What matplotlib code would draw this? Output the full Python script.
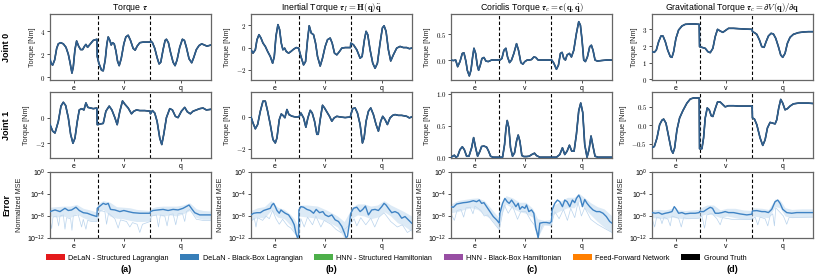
import numpy as np
import matplotlib
matplotlib.use("Agg")
import matplotlib.pyplot as plt
from matplotlib.patches import Patch
from matplotlib.ticker import FixedLocator, FuncFormatter, LogFormatterMathtext, NullLocator

plt.rcParams['font.family'] = ['Liberation Sans', 'DejaVu Sans']
plt.rcParams['mathtext.fontset'] = 'cm'

# trajectory segments (time steps) and labels
seg_edges = [0, 143, 301, 484]
seg_labels = ['e', 'v', 'q']

titles = [r'Torque $\boldsymbol{\tau}$',
          r'Inertial Torque $\boldsymbol{\tau}_I = \mathbf{H}(\mathbf{q})\ddot{\mathbf{q}}$',
          r'Coriolis Torque $\boldsymbol{\tau}_c = \mathbf{c}(\mathbf{q}, \dot{\mathbf{q}})$',
          r'Gravitational Torque $\boldsymbol{\tau}_c = \partial V(\mathbf{q}) / \partial \mathbf{q}$']
panel_tags = ['(a)', '(b)', '(c)', '(d)']

# ---- torque curves (t, Nm) ----
tau_j0 = [(0, 1.55), (4, 1.15), (8, 1.05), (14, 1.5), (20, 2.5), (25, 2.9), (32, 3.0), (40, 2.9), (48, 2.6),
          (55, 2.0), (60, 1.3), (66, 0.35), (70, 0.9), (75, 2.4), (80, 3.15), (86, 2.7), (92, 2.4), (98, 2.4),
          (104, 2.7), (108, 2.85), (113, 2.6), (120, 2.85), (130, 3.2), (141, 3.3),
          (142, 1.8), (147, 1.2), (155, 0.6), (160, 0.55), (166, 1.5), (171, 2.9), (175, 3.5), (180, 3.2),
          (184, 2.8), (188, 3.0), (193, 2.9), (198, 2.3), (203, 1.4), (208, 1.0), (214, 1.6), (222, 2.9),
          (228, 3.5), (235, 3.65), (242, 3.2), (250, 2.5), (256, 2.35), (262, 2.7), (270, 3.0), (280, 3.05),
          (301, 3.05),
          (303, 3.15), (308, 3.0), (315, 2.5), (322, 1.7), (328, 1.15), (333, 1.3), (340, 2.4), (346, 3.2),
          (350, 3.3), (356, 3.0), (362, 2.2), (370, 1.3), (376, 1.0), (382, 1.5), (390, 2.6), (398, 3.3),
          (404, 3.2), (410, 2.6), (418, 1.6), (426, 1.25), (432, 1.7), (440, 2.4), (448, 2.75), (456, 2.9),
          (464, 2.8), (472, 2.7), (478, 2.75), (484, 2.8)]
tau_j1 = [(0, -0.55), (8, -1.05), (15, -1.2), (25, -0.3), (33, 0.9), (40, 1.2), (47, 0.95), (55, 0.0),
          (62, -1.3), (69, -2.0), (75, -1.6), (82, -0.3), (88, 0.6), (95, 0.7), (102, 0.6), (108, 1.15),
          (114, 0.8), (122, 0.75), (130, 0.7), (141, 0.75),
          (142, -0.55), (150, -0.5), (160, -0.45), (168, 0.5), (178, 0.9), (186, 0.6), (195, 0.0), (202, -0.55),
          (210, 0.5), (218, 1.3), (225, 1.05), (235, 0.75), (245, 0.3), (252, 0.5), (260, 0.6), (270, 0.55),
          (285, 0.55), (301, 0.5),
          (302, 0.3), (308, 0.55), (315, 0.35), (322, -0.3), (330, -1.6), (336, -2.1), (342, -1.3), (350, 0.0),
          (360, 0.7), (368, 0.6), (377, 0.1), (385, 0.0), (395, 0.5), (405, 0.8), (413, 0.45), (422, 0.3),
          (430, 0.5), (440, 0.6), (450, 0.7), (460, 0.75), (470, 0.6), (484, 0.65)]

inertial_j0 = [(0, -0.2), (6, -0.5), (13, -0.2), (18, 0.7), (24, 1.15), (30, 0.85), (36, 0.4), (43, 0.1),
               (50, -0.35), (58, -0.8), (65, -1.4), (70, -0.8), (75, 1.0), (81, 2.05), (86, 1.6), (91, 0.4),
               (96, -0.2), (101, -0.05), (106, -0.35), (113, -0.5), (120, -0.35), (128, -0.15), (136, 0.0),
               (143, -0.05),
               (144, -0.15), (150, -0.8), (158, -1.55), (164, -1.25), (170, 0.7), (175, 1.95), (181, 1.3),
               (188, 1.15), (194, 0.4), (200, -0.8), (208, -1.65), (215, -0.95), (223, 0.1), (230, 0.7),
               (238, 0.85), (244, 0.4), (251, -0.5), (258, -0.65), (266, -0.35), (273, -0.05), (283, 0.0),
               (299, 0.0),
               (300, 0.4), (308, 0.25), (318, -0.2), (328, -0.95), (334, -0.8), (341, 0.7), (346, 1.45),
               (351, 1.15), (358, -0.2), (366, -1.4), (373, -1.85), (380, -1.4), (388, 0.4), (395, 1.75),
               (400, 1.95), (406, 1.45), (413, -0.2), (420, -1.2), (428, -0.65), (438, -0.05), (448, 0.1),
               (458, 0.0), (468, 0.0), (476, -0.1), (483, -0.05)]
inertial_j1 = [(0, 0.0), (6, -0.38), (13, -0.75), (20, -0.48), (28, 0.36), (36, 1.0), (43, 1.0), (50, 0.36),
               (58, -0.48), (66, -1.43), (73, -1.65), (78, -1.33), (85, -0.17), (91, 0.19), (96, 0.1),
               (102, -0.05), (108, 0.47), (114, 0.15), (123, 0.05), (133, 0.0), (143, 0.0),
               (144, 0.0), (150, 0.25), (158, -0.06), (165, -0.65), (171, -0.06), (178, 0.42), (184, 0.25),
               (191, -0.27), (198, -1.1), (202, -1.1), (208, -0.17), (215, 0.74), (221, 0.57), (228, 0.32),
               (236, 0.04), (243, -0.27), (250, -0.06), (258, 0.04), (268, 0.0), (283, -0.04), (299, 0.0),
               (300, 0.15), (306, 0.53), (313, 0.57), (320, 0.25), (328, -0.48), (335, -1.65), (340, -1.33),
               (346, -0.27), (353, 0.36), (360, 0.57), (368, 0.15), (376, -0.48), (383, -0.9), (390, -0.27),
               (396, 0.04), (403, -0.17), (410, -0.48), (418, -0.06), (426, 0.1), (433, 0.15), (443, 0.1),
               (453, 0.1), (468, 0.04), (476, -0.06), (483, 0.0)]

coriolis_j0 = [(0, 0.0), (7, -0.01), (14, 0.0), (20, -0.13), (27, -0.03), (34, 0.13), (39, 0.14), (45, -0.03),
               (49, -0.2), (55, -0.31), (60, -0.2), (65, 0.06), (69, 0.23), (74, 0.13), (79, -0.1), (83, -0.2),
               (88, -0.1), (93, 0.03), (99, 0.05), (105, -0.02), (112, -0.03), (122, 0.0), (145, 0.0),
               (147, 0.0), (153, 0.03), (159, 0.19), (165, 0.23), (170, 0.06), (176, -0.05), (182, 0.0),
               (189, 0.13), (197, 0.32), (203, 0.19), (210, -0.05), (216, -0.08), (222, -0.03), (229, 0.0),
               (235, 0.0), (242, 0.01), (249, 0.06), (255, 0.05), (262, 0.0), (287, 0.0), (302, 0.0),
               (303, 0.0), (309, -0.06), (317, -0.18), (323, -0.1), (329, 0.13), (334, 0.15), (339, 0.03),
               (344, 0.0), (349, 0.1), (356, 0.13), (362, 0.06), (369, 0.19), (377, 0.52), (384, 0.75),
               (389, 0.68), (394, 0.39), (399, 0.0), (404, -0.03), (410, 0.06), (417, 0.26), (422, 0.29),
               (427, 0.19), (433, 0.0), (440, -0.02), (452, -0.01), (467, 0.0), (484, 0.0)]
coriolis_j1 = [(0, 0.0), (5, 0.016), (10, 0.032), (15, 0.0), (20, 0.016), (27, 0.12), (34, 0.165), (40, 0.12),
               (47, 0.016), (54, 0.016), (62, 0.149), (68, 0.31), (74, 0.149), (80, 0.016), (87, 0.096),
               (92, 0.17), (99, 0.176), (107, 0.16), (113, 0.096), (119, 0.016), (127, 0.0), (145, 0.0),
               (147, 0.0), (155, 0.0), (161, 0.2), (165, 0.44), (169, 0.58), (174, 0.465), (179, 0.149),
               (185, 0.016), (191, 0.069), (197, 0.255), (202, 0.35), (207, 0.255), (213, 0.027), (219, 0.011),
               (227, 0.011), (235, 0.016), (243, 0.043), (251, 0.064), (257, 0.027), (267, 0.0), (302, 0.0),
               (303, 0.0), (317, 0.0), (327, 0.043), (335, 0.149), (342, 0.043), (349, 0.096), (356, 0.19),
               (363, 0.096), (370, 0.096), (377, 0.362), (384, 0.734), (390, 0.856), (396, 0.707), (402, 0.2),
               (409, 0.0), (415, 0.122), (421, 0.335), (427, 0.17), (433, 0.016), (442, 0.0), (484, 0.0)]

grav_j0 = [(0, 1.66), (7, 1.62), (13, 1.76), (20, 2.26), (27, 2.6), (33, 2.6), (40, 2.26), (47, 1.76),
           (55, 1.36), (60, 1.32), (65, 1.66), (72, 2.46), (80, 2.96), (90, 3.2), (100, 3.3), (115, 3.32),
           (130, 3.32), (142, 3.3),
           (143, 1.96), (150, 1.92), (160, 1.86), (168, 1.66), (175, 1.6), (183, 1.86), (190, 2.56),
           (197, 3.0), (205, 2.9), (213, 2.82), (220, 2.92), (230, 3.06), (245, 3.06), (260, 3.04),
           (275, 3.02), (301, 3.0),
           (302, 2.86), (308, 2.8), (315, 2.7), (323, 2.36), (330, 1.96), (337, 1.92), (343, 2.26), (350, 2.6),
           (358, 2.76), (365, 2.72), (372, 2.46), (380, 1.96), (387, 1.46), (393, 1.32), (400, 1.56),
           (407, 2.16), (415, 2.52), (425, 2.7), (440, 2.8), (455, 2.84), (470, 2.86), (484, 2.86)]
grav_j1 = [(0, -0.6), (7, -0.57), (15, -0.34), (23, 0.02), (30, 0.14), (35, 0.17), (42, 0.06), (50, -0.3),
           (58, -0.66), (63, -0.75), (68, -0.61), (75, -0.12), (83, 0.2), (93, 0.4), (105, 0.6), (115, 0.71),
           (125, 0.74), (142, 0.74),
           (143, -0.63), (150, -0.63), (155, -0.34), (160, 0.2), (166, 0.47), (172, 0.42), (178, 0.26),
           (183, 0.24), (189, 0.42), (197, 0.63), (205, 0.63), (213, 0.56), (220, 0.5), (230, 0.53),
           (245, 0.53), (260, 0.52), (301, 0.52),
           (302, 0.2), (308, 0.17), (315, 0.02), (325, -0.34), (333, -0.54), (340, -0.39), (347, -0.07),
           (355, 0.08), (363, 0.06), (370, 0.04), (375, 0.15), (381, 0.47), (387, 0.7), (393, 0.6),
           (400, 0.42), (407, 0.45), (415, 0.52), (425, 0.58), (440, 0.6), (455, 0.6), (470, 0.6), (484, 0.59)]

torque_curves = [[tau_j0, tau_j1], [inertial_j0, inertial_j1], [coriolis_j0, coriolis_j1], [grav_j0, grav_j1]]
torque_ylims = [[(-0.25, 5.5), (-3.15, 2.0)], [(-2.9, 3.0), (-2.6, 1.58)],
                [(-0.39, 0.9), (-0.012, 1.03)], [(-0.04, 3.92), (-0.88, 0.9)]]
torque_yticks = [[[0, 2, 4], [-2, 0]], [[-2, 0, 2], [-2, 0]],
                 [[0.0, 0.5], [0.0, 0.5, 1.0]], [[0, 1, 2, 3], [-0.5, 0.0, 0.5]]]
tick_decimals = [[0, 0], [0, 0], [1, 1], [0, 1]]

# ---- normalized MSE (log10) : mean, band and the worst seed ----
mse_mean = [
    [(0, -7.2), (15, -6.9), (30, -7.2), (45, -6.6), (55, -7.0), (65, -6.9), (78, -6.4), (88, -7.0), (100, -7.4),
     (112, -7.5), (125, -7.8), (141, -8.1), (142, -6.6), (150, -6.2), (160, -5.7), (168, -5.9), (175, -5.7),
     (182, -6.8), (195, -6.9), (210, -7.2), (222, -7.0), (235, -7.2), (250, -7.4), (270, -7.5), (290, -7.5),
     (301, -7.5), (302, -7.2), (310, -7.0), (325, -6.9), (340, -6.8), (355, -7.0), (370, -6.8), (385, -6.9),
     (400, -6.6), (412, -6.2), (418, -6.0), (425, -6.6), (435, -7.4), (450, -7.8), (465, -7.8), (484, -7.8)],
    [(0, -7.8), (8, -7.5), (18, -7.4), (28, -7.4), (38, -7.0), (48, -6.8), (58, -6.6), (63, -6.0), (68, -5.7),
     (73, -6.3), (78, -7.0), (85, -7.5), (90, -6.9), (96, -7.2), (103, -7.5), (113, -7.8), (123, -8.7),
     (130, -9.6), (135, -11.1), (140, -12.0), (143, -11.5), (144, -6.9), (150, -6.3), (158, -6.4), (168, -6.8),
     (178, -7.0), (188, -7.5), (196, -6.8), (206, -7.4), (216, -7.2), (223, -7.8), (233, -8.1), (243, -7.8),
     (253, -8.7), (263, -9.0), (273, -9.9), (281, -11.1), (286, -12.0), (290, -11.7), (296, -9.3), (299, -7.8),
     (300, -7.5), (308, -6.6), (318, -6.4), (328, -7.2), (336, -6.8), (344, -6.2), (353, -7.8), (363, -6.9),
     (373, -6.8), (383, -7.0), (393, -6.3), (400, -5.7), (406, -6.0), (413, -6.6), (423, -7.4), (433, -7.2),
     (443, -7.5), (453, -8.4), (463, -8.1), (473, -8.7), (483, -9.3)],
    [(0, -6.3), (7, -6.42), (17, -5.82), (27, -5.7), (37, -5.58), (47, -5.52), (57, -5.4), (67, -5.22),
     (77, -5.4), (85, -5.1), (92, -5.7), (99, -5.58), (107, -6.3), (117, -7.2), (127, -8.1), (137, -8.7),
     (145, -9.3), (147, -7.5), (155, -5.7), (162, -4.8), (169, -5.4), (175, -5.7), (182, -5.1), (189, -5.7),
     (195, -6.3), (202, -5.7), (207, -6.78), (214, -6.3), (222, -6.6), (227, -6.0), (234, -7.2), (242, -6.9),
     (249, -7.5), (255, -10.2), (259, -11.1), (262, -12.0), (267, -9.3), (277, -9.18), (287, -9.18),
     (297, -9.3), (302, -9.0), (304, -6.9), (312, -5.7), (320, -5.1), (327, -5.4), (335, -6.3), (342, -5.1),
     (349, -5.4), (357, -6.3), (365, -5.1), (372, -5.58), (377, -4.8), (384, -4.2), (389, -4.8), (395, -6.3),
     (402, -5.0), (409, -5.7), (417, -6.3), (427, -6.9), (437, -7.2), (447, -7.2), (457, -7.5), (467, -8.1),
     (477, -9.0), (484, -9.3)],
    [(0, -7.38), (10, -7.5), (20, -7.38), (30, -7.68), (40, -7.5), (50, -7.38), (60, -7.2), (67, -6.3),
     (73, -6.78), (80, -7.5), (90, -7.38), (100, -7.62), (115, -7.5), (130, -7.5), (142, -7.38), (143, -7.2),
     (155, -7.2), (165, -6.78), (175, -6.42), (182, -6.6), (190, -7.5), (200, -7.5), (210, -7.38), (220, -7.2),
     (230, -7.38), (245, -7.38), (265, -7.62), (285, -7.8), (300, -7.68), (302, -7.08), (315, -7.02),
     (330, -7.2), (340, -7.2), (350, -7.38), (360, -6.78), (370, -5.4), (378, -5.1), (385, -5.7), (393, -6.78),
     (405, -7.38), (420, -7.5), (435, -7.38), (455, -7.38), (475, -7.38), (483, -7.38)],
]

band_t = [
    [0, 20, 40, 60, 80, 100, 120, 141, 142, 160, 180, 200, 220, 240, 260, 280, 301,
     302, 320, 340, 360, 380, 400, 420, 440, 460, 484],
    [0, 20, 40, 60, 80, 100, 120, 130, 143, 144, 170, 200, 230, 260, 280, 299,
     300, 320, 340, 360, 380, 400, 420, 440, 460, 483],
    [0, 20, 40, 60, 80, 100, 120, 145, 147, 165, 185, 205, 225, 245, 260, 280, 302,
     304, 330, 350, 370, 385, 400, 420, 440, 460, 484],
    [0, 20, 40, 60, 80, 100, 120, 142, 143, 165, 185, 205, 225, 250, 275, 300,
     302, 330, 350, 370, 385, 400, 420, 450, 483],
]
band_hi = [
    [-6.4, -6.3, -6.2, -6.2, -5.9, -6.6, -6.9, -7.3, -5.8, -5.2, -5.5, -6.3, -6.4, -6.5, -6.8, -6.9, -7.0,
     -6.6, -6.3, -6.2, -6.2, -6.2, -6.0, -5.6, -6.7, -7.0, -7.1],
    [-7.0, -6.5, -6.3, -5.2, -6.4, -6.8, -7.8, -8.5, -10.0, -6.0, -6.0, -6.2, -7.0, -8.0, -9.0, -7.0,
     -6.5, -5.8, -5.8, -6.2, -6.0, -5.2, -6.0, -6.6, -7.2, -8.0],
    [-5.8, -5.2, -5.0, -4.8, -4.7, -5.2, -6.6, -8.4, -6.5, -4.3, -4.7, -5.5, -5.5, -6.6, -8.5, -8.8, -8.6,
     -6.2, -5.3, -4.6, -4.6, -3.9, -4.6, -5.6, -6.3, -6.7, -8.0],
    [-6.9, -6.8, -6.9, -6.6, -6.9, -7.0, -6.9, -6.8, -6.6, -6.0, -6.0, -6.9, -6.6, -6.6, -6.9, -7.0,
     -6.5, -6.6, -6.8, -4.9, -5.1, -6.5, -6.8, -6.7, -6.7],
]
band_lo = [
    [-8.0, -8.2, -8.0, -8.3, -7.6, -8.3, -8.8, -8.8, -7.5, -6.8, -8.0, -8.4, -8.5, -8.8, -9.0, -9.0, -8.9,
     -8.0, -7.8, -8.0, -7.8, -8.0, -7.6, -7.0, -8.3, -8.6, -8.6],
    [-8.8, -8.2, -8.4, -7.0, -8.2, -8.5, -9.8, -11.0, -12.0, -8.0, -8.2, -8.4, -9.0, -10.0, -12.0, -9.0,
     -8.5, -7.8, -8.0, -8.5, -8.2, -7.2, -8.0, -9.2, -9.8, -10.8],
    [-7.4, -7.2, -6.8, -6.5, -6.8, -7.8, -8.5, -10.5, -8.5, -5.8, -6.6, -7.2, -7.5, -8.2, -12.0, -9.6, -9.8,
     -7.8, -7.0, -6.5, -6.5, -5.3, -6.5, -7.8, -9.0, -10.0, -11.0],
    [-8.3, -8.4, -8.5, -8.2, -8.4, -8.5, -8.4, -8.3, -8.0, -7.6, -7.8, -8.3, -8.0, -8.3, -8.6, -8.6,
     -8.0, -8.2, -8.3, -6.3, -6.5, -8.0, -8.3, -8.2, -8.2],
]
mse_seed = [
    [(0, -8.5), (5, -10.3), (9, -8.2), (20, -8.0), (26, -9.8), (30, -8.0), (40, -7.8), (45, -10.4), (50, -8.3),
     (62, -8.5), (66, -10.6), (70, -8.0), (85, -7.8), (95, -10.0), (100, -8.6), (108, -10.4), (113, -8.8),
     (125, -9.0), (141, -9.0), (150, -7.0), (165, -7.2), (170, -9.5), (176, -7.5), (195, -8.5), (205, -10.2),
     (212, -8.7), (230, -9.0), (240, -10.0), (248, -9.2), (262, -9.5), (270, -11.0), (278, -9.5), (301, -9.0),
     (305, -8.0), (320, -7.8), (326, -10.0), (332, -7.8), (345, -8.0), (352, -9.8), (358, -7.8), (370, -7.6),
     (378, -9.6), (385, -7.6), (398, -7.5), (405, -9.0), (410, -7.2), (420, -6.8), (440, -8.6), (460, -8.8),
     (484, -8.8)],
    [(0, -9.0), (10, -8.4), (15, -10.0), (20, -8.3), (35, -8.8), (45, -8.0), (55, -8.5), (65, -7.0), (75, -8.5),
     (85, -9.5), (95, -8.6), (110, -9.8), (120, -10.2), (143, -12.0), (150, -8.5), (160, -10.0), (170, -8.2),
     (185, -9.6), (195, -8.0), (210, -10.0), (220, -8.8), (240, -9.5), (255, -10.4), (270, -11.0), (299, -9.5),
     (310, -8.5), (318, -9.8), (330, -8.3), (345, -9.6), (360, -8.4), (372, -10.0), (385, -8.2), (400, -7.4),
     (420, -9.0), (440, -10.0), (455, -9.6), (470, -11.0), (483, -10.5)],
    [(0, -7.6), (10, -8.8), (18, -7.0), (30, -6.8), (38, -8.2), (45, -6.5), (58, -6.4), (66, -7.6), (72, -6.2),
     (90, -7.0), (100, -8.0), (110, -7.8), (125, -9.0), (145, -10.5), (160, -6.0), (172, -7.5), (185, -6.2),
     (200, -8.6), (210, -7.2), (225, -7.2), (240, -8.8), (250, -9.6), (262, -12.0), (275, -9.6), (302, -9.6),
     (312, -7.2), (325, -8.5), (338, -6.8), (350, -8.8), (360, -6.6), (372, -8.3), (382, -5.5), (392, -8.0),
     (402, -6.5), (420, -8.6), (440, -9.5), (460, -10.2), (484, -11.0)],
    [(0, -8.4), (8, -10.0), (14, -8.2), (25, -8.4), (30, -9.4), (36, -8.2), (48, -8.6), (55, -9.8), (60, -8.0),
     (80, -8.4), (88, -10.0), (95, -8.3), (110, -8.5), (142, -8.4), (150, -8.0), (158, -10.2), (165, -7.8),
     (180, -7.5), (195, -8.5), (205, -9.6), (212, -8.3), (240, -8.6), (300, -8.6), (310, -8.2), (318, -9.6),
     (325, -8.2), (340, -8.5), (348, -9.8), (355, -8.0), (363, -7.6), (368, -9.8), (372, -6.5), (395, -8.0),
     (405, -9.5), (412, -8.3), (483, -8.2)],
]

legend_names = ['DeLaN - Structured Lagrangian', 'DeLaN - Black-Box Lagrangian', 'HNN - Structured Hamiltonian',
                'HNN - Black-Box Hamiltonian', 'Feed-Forward Network', 'Ground Truth']
legend_colors = ['#e41a1c', '#377eb8', '#4daf4a', '#984ea3', '#ff7f00', '#000000']

line_col = '#2f5f8f'
err_col = '#3f83c4'
spine_col = '#666666'

W, H = 830, 277
fig = plt.figure(figsize=(W / 100, H / 100), dpi=100)

col_left = [50, 251, 451, 652]
row_top = [14, 92, 172]
ax_w, ax_h = 161, 66
centers = [(seg_edges[i] + seg_edges[i + 1]) / 2 for i in range(3)]


def style_axis(ax):
    for s in ax.spines.values():
        s.set_color(spine_col)
        s.set_linewidth(0.9)
    ax.set_xlim(seg_edges[0], seg_edges[-1])
    ax.xaxis.set_major_locator(FixedLocator(centers))
    ax.set_xticklabels(seg_labels)
    ax.tick_params(axis='both', length=2, width=0.6, pad=1.5, labelsize=5, color='#333333')
    for b in seg_edges[1:-1]:
        ax.axvline(b, color='black', lw=0.8, ls=(0, (3, 2)), zorder=1)


def make_fmt(dec):
    return FuncFormatter(lambda v, p: '$%.*f$' % (dec, v))


for c in range(4):
    for r in range(3):
        ax = fig.add_axes([col_left[c] / W, 1 - (row_top[r] + ax_h) / H, ax_w / W, ax_h / H])
        style_axis(ax)
        if r < 2:
            pts = np.array(torque_curves[c][r])
            ax.plot(pts[:, 0], pts[:, 1], color='black', lw=1.0, zorder=2)
            ax.plot(pts[:, 0], pts[:, 1], color=line_col, lw=1.2, zorder=3)
            ax.set_ylim(*torque_ylims[c][r])
            ax.yaxis.set_major_locator(FixedLocator(torque_yticks[c][r]))
            ax.yaxis.set_major_formatter(make_fmt(tick_decimals[c][r]))
            ax.set_ylabel('Torque [Nm]', fontsize=5.2, labelpad=3, color='#222222')
            if r == 0:
                ax.set_title(titles[c], fontsize=6.3, pad=2.5)
        else:
            ax.set_yscale('log')
            seed = np.array(mse_seed[c])
            ax.plot(seed[:, 0], 10 ** seed[:, 1], color='#b9d3ec', lw=0.5, zorder=2)
            ax.fill_between(band_t[c], 10 ** np.array(band_lo[c]), 10 ** np.array(band_hi[c]),
                            color='#c6dcf0', alpha=0.6, lw=0, zorder=2)
            m = np.array(mse_mean[c])
            ax.plot(m[:, 0], 10 ** m[:, 1], color=err_col, lw=1.0, zorder=3)
            ax.set_ylim(1e-12, 1)
            ax.yaxis.set_major_locator(FixedLocator([1e-12, 1e-8, 1e-4, 1]))
            ax.yaxis.set_minor_locator(NullLocator())
            ax.yaxis.set_major_formatter(LogFormatterMathtext())
            ax.set_ylabel('Normalized MSE', fontsize=5.2, labelpad=3, color='#222222')
        if c == 0:
            ax.text(-0.27, 0.5, ['Joint 0', 'Joint 1', 'Error'][r], transform=ax.transAxes, rotation=90,
                    ha='center', va='center', fontsize=6.5, fontweight='bold')

handles = [Patch(facecolor=col, edgecolor='none') for col in legend_colors]
fig.legend(handles, legend_names, loc='center', bbox_to_anchor=(396 / W, 1 - 258 / H), ncol=6,
           frameon=False, fontsize=5.2, handlelength=2.6, handleheight=0.9, columnspacing=1.6,
           handletextpad=0.5)

tag_x = [126, 331, 532, 732]
for c in range(4):
    fig.text(tag_x[c] / W, 1 - 270 / H, panel_tags[c], ha='center', va='center', fontsize=6.5,
             fontweight='bold')

fig.savefig('out.png', dpi=100)
